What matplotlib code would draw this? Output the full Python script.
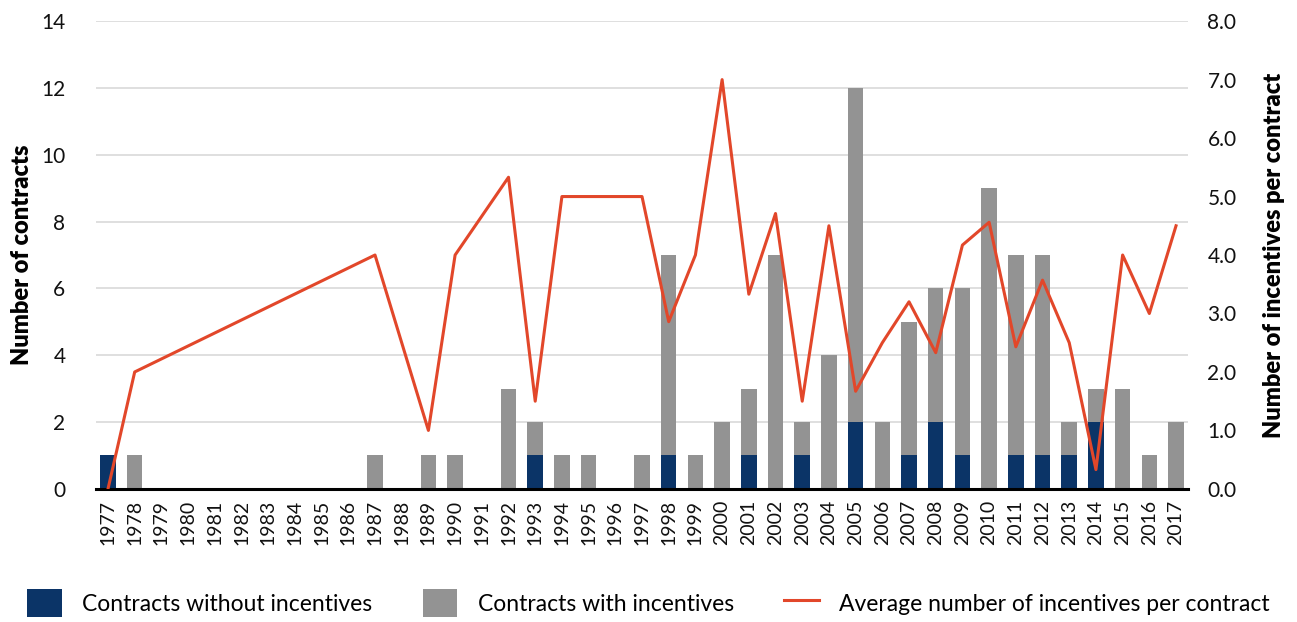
import matplotlib
matplotlib.use("Agg")
import matplotlib.pyplot as plt
import numpy as np
from matplotlib.patches import Patch
from matplotlib.lines import Line2D

plt.rcParams['font.family'] = ['Lato', 'DejaVu Sans']

years = list(range(1977, 2018))
data_years = [1977, 1978, 1987, 1989, 1990, 1992, 1993, 1994, 1995, 1997, 1998, 1999,
              2000, 2001, 2002, 2003, 2004, 2005, 2006, 2007, 2008, 2009, 2010, 2011,
              2012, 2013, 2014, 2015, 2016, 2017]
without_inc = [1, 0, 0, 0, 0, 0, 1, 0, 0, 0, 1, 0,
               0, 1, 0, 1, 0, 2, 0, 1, 2, 1, 0, 1,
               1, 1, 2, 0, 0, 0]
with_inc = [0, 1, 1, 1, 1, 3, 1, 1, 1, 1, 6, 1,
            2, 2, 7, 1, 4, 10, 2, 4, 4, 5, 9, 6,
            6, 1, 1, 3, 1, 2]
avg_inc = [0.0, 2.0, 4.0, 1.0, 4.0, 5.33, 1.5, 5.0, 5.0, 5.0, 2.86, 4.0,
           7.0, 3.33, 4.71, 1.5, 4.5, 1.67, 2.5, 3.2, 2.33, 4.17, 4.56, 2.43,
           3.57, 2.5, 0.33, 4.0, 3.0, 4.5]

navy = '#0B3467'
gray = '#939393'
red = '#E2472A'

fig = plt.figure(figsize=(12.97, 6.22), dpi=100)
ax = fig.add_axes([0.074, 0.214, 0.842, 0.752])
ax2 = ax.twinx()

pos = np.arange(len(years))
idx = {y: i for i, y in enumerate(years)}
xp = np.array([idx[y] for y in data_years])
wo = np.array(without_inc)
wi = np.array(with_inc)

ax.bar(xp, wo, width=0.58, color=navy, zorder=2)
ax.bar(xp, wi, width=0.58, bottom=wo, color=gray, zorder=2)

ax.set_ylim(0, 14)
ax.set_yticks(range(0, 15, 2))
ax.set_xlim(-0.45, len(years) - 0.55)
ax.set_xticks(pos)
ax.set_xticklabels([str(y) for y in years], rotation=90)
ax.yaxis.grid(True, color='#D9D9D9', linewidth=1.2, zorder=0)
ax.set_axisbelow(True)
for s in ['top', 'right', 'left']:
    ax.spines[s].set_visible(False)
ax.spines['bottom'].set_linewidth(2.2)
ax.spines['bottom'].set_color('black')
ax.tick_params(axis='both', length=0, labelsize=15, colors='#111111')
ax.tick_params(axis='x', labelsize=14, pad=8)
ax.tick_params(axis='y', pad=22)
ax.set_ylabel('Number of contracts', fontsize=17, fontweight='heavy')
ax.yaxis.set_label_coords(-0.058, 0.5)

ax2.plot(xp, avg_inc, color=red, linewidth=2.2, zorder=3)
ax2.set_ylim(0, 8)
ax2.set_yticks(np.arange(0, 8.1, 1.0))
ax2.set_yticklabels([f'{v:.1f}' for v in np.arange(0, 8.1, 1.0)])
for s in ['top', 'right', 'left', 'bottom']:
    ax2.spines[s].set_visible(False)
ax2.tick_params(axis='y', length=0, labelsize=15, pad=14, colors='#111111')
ax2.set_ylabel('Number of incentives per contract', fontsize=17, fontweight='heavy')
ax2.yaxis.set_label_coords(1.069, 0.5)

handles = [Patch(facecolor=navy, edgecolor='none'),
           Patch(facecolor=gray, edgecolor='none'),
           Line2D([0], [0], color=red, linewidth=2.2)]
labels = ['Contracts without incentives', 'Contracts with incentives',
          'Average number of incentives per contract']
fig.legend(handles, labels, loc='lower center', bbox_to_anchor=(0.5, -0.025), ncol=3,
           frameon=False, fontsize=16.5, handlelength=1.5, handleheight=1.5,
           columnspacing=2.2, handletextpad=0.9)

fig.savefig('out.png', dpi=100)
